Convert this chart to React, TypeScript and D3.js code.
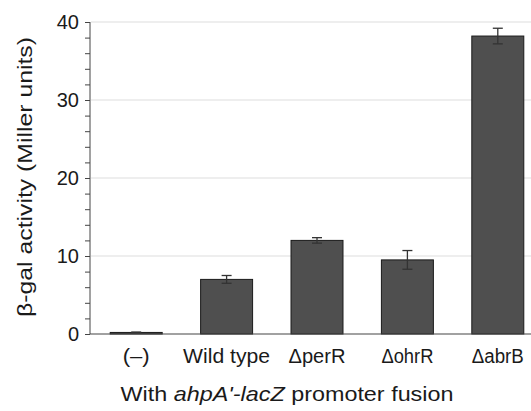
import React, { useEffect, useRef } from "react";
import * as d3 from "d3";

const strains = ["(–)", "Wild type", "ΔperR", "ΔohrR", "ΔabrB"];
const activity = [0.2, 7.0, 12.0, 9.5, 38.2];
const errors = [0.05, 0.5, 0.35, 1.2, 1.0];
const yTicks = [0, 10, 20, 30, 40];
// measured label widths in the figure (text is a bit wide)
const labelWidths = [27, 87, 57, 52, 52];

const W = 531;
const H = 411;

const App = () => {
  const ref = useRef<SVGSVGElement>(null);

  useEffect(() => {
    const svg = d3.select(ref.current);
    svg.selectAll("*").remove();

    const x = d3
      .scaleBand()
      .domain(strains)
      .range([91, 543])
      .paddingInner(0.425)
      .paddingOuter(0.2125);
    const y = d3.scaleLinear().domain([0, 40]).range([334, 22]);

    const font = "Liberation Sans, Arial, sans-serif";

    // gridlines
    svg
      .append("g")
      .selectAll("line")
      .data(yTicks.filter(d => d > 0))
      .enter()
      .append("line")
      .attr("x1", 91)
      .attr("x2", W)
      .attr("y1", d => y(d))
      .attr("y2", d => y(d))
      .attr("stroke", "#dedede")
      .attr("stroke-width", 1.2);

    // y axis, minor ticks every 2
    const yAxis = d3
      .axisLeft(y)
      .tickValues(d3.range(0, 41, 2))
      .tickSize(5)
      .tickFormat(d => ((d as number) % 10 === 0 ? String(d) : ""));
    const ga = svg.append("g").attr("transform", "translate(90,0)").call(yAxis);
    ga.select(".domain").attr("stroke", "#444").attr("d", `M0,${y(40)}V${y(0)}`);
    ga.selectAll(".tick line").attr("stroke", "#444");
    ga.selectAll(".tick text")
      .attr("x", -11)
      .attr("fill", "#1a1a1a")
      .style("font-family", font)
      .style("font-size", "20px");

    // bars
    svg
      .append("g")
      .selectAll("rect")
      .data(activity)
      .enter()
      .append("rect")
      .attr("x", (d, i) => x(strains[i])!)
      .attr("width", x.bandwidth())
      .attr("y", d => y(d))
      .attr("height", d => y(0) - y(d))
      .attr("fill", "#4f4f4f")
      .attr("stroke", "#1a1a1a")
      .attr("stroke-width", 1);

    // error bars
    const eb = svg
      .append("g")
      .selectAll("g")
      .data(activity)
      .enter()
      .append("g")
      .attr("stroke", "#333")
      .attr("stroke-width", 1.3);
    eb.each(function (d, i) {
      const g = d3.select(this);
      const cx = x(strains[i])! + x.bandwidth() / 2;
      const e = errors[i];
      g.append("line").attr("x1", cx).attr("x2", cx).attr("y1", y(d + e)).attr("y2", y(d - e));
      g.append("line").attr("x1", cx - 5).attr("x2", cx + 5).attr("y1", y(d + e)).attr("y2", y(d + e));
      g.append("line").attr("x1", cx - 5).attr("x2", cx + 5).attr("y1", y(d - e)).attr("y2", y(d - e));
    });

    // x axis line
    svg
      .append("line")
      .attr("x1", 90)
      .attr("x2", W)
      .attr("y1", y(0))
      .attr("y2", y(0))
      .attr("stroke", "#444")
      .attr("stroke-width", 1.2);

    // x labels
    svg
      .append("g")
      .selectAll("text")
      .data(strains)
      .enter()
      .append("text")
      .attr("x", d => x(d)! + x.bandwidth() / 2)
      .attr("y", 363)
      .attr("text-anchor", "middle")
      .attr("textLength", (d, i) => labelWidths[i])
      .attr("lengthAdjust", "spacingAndGlyphs")
      .attr("fill", "#1a1a1a")
      .style("font-family", font)
      .style("font-size", "20px")
      .text(d => d);

    // x title
    const t = svg
      .append("text")
      .attr("x", 287)
      .attr("y", 401)
      .attr("text-anchor", "middle")
      .attr("textLength", 333)
      .attr("lengthAdjust", "spacingAndGlyphs")
      .attr("fill", "#1a1a1a")
      .style("font-family", font)
      .style("font-size", "21px");
    t.append("tspan").text("With ");
    t.append("tspan").style("font-style", "italic").text("ahpA'-lacZ");
    t.append("tspan").text(" promoter fusion");

    // y title
    svg
      .append("text")
      .attr("transform", "translate(32,177) rotate(-90)")
      .attr("text-anchor", "middle")
      .attr("textLength", 280)
      .attr("lengthAdjust", "spacingAndGlyphs")
      .attr("fill", "#1a1a1a")
      .style("font-family", font)
      .style("font-size", "21px")
      .text("β-gal activity (Miller units)");
  }, []);

  return (
    <svg
      ref={ref}
      width={W}
      height={H}
      style={{ position: "absolute", left: 0, top: 0, background: "#fff" }}
    />
  );
};

export default App;
